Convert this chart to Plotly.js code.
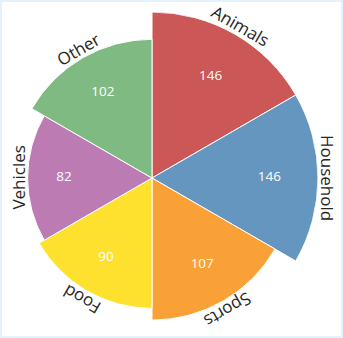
<!DOCTYPE html>
<html>
<head>
<meta charset="utf-8">
<script src="https://cdn.plot.ly/plotly-3.0.1.min.js"></script>
<style>
  html, body { margin: 0; padding: 0; background: #ffffff; }
  #wrap { position: relative; width: 343px; height: 338px; overflow: hidden; background: #ffffff; }
  #chart { position: absolute; left: -48px; top: -22px; width: 400px; height: 400px; }
  #frame { position: absolute; left: 0; top: 0; width: 343px; height: 338px; box-sizing: border-box;
           border: 2px solid #e4f2fb; pointer-events: none; }
</style>
</head>
<body>
<div id="wrap">
  <div id="chart"></div>
  <div id="frame"></div>
</div>
<script>
// ---- data ----
const categories = ["Animals", "Household", "Sports", "Food", "Vehicles", "Other"];
const values = [146, 146, 107, 90, 82, 102];
const colors = ["#cc5757", "#6596c0", "#f9a037", "#fee12e", "#bd7bb4", "#7fba82"];

// area-proportional sectors: radius = sqrt(value)
const rVals = values.map(v => Math.sqrt(v));
const rMax = Math.max(...rVals);
const rLabel = values.map(v => Math.sqrt(v / 2));

const sectorWidth = 360 / categories.length;
const thetaDeg = categories.map((c, i) => sectorWidth * (i + 0.5)); // clockwise from north

const barTrace = {
  type: "barpolar",
  r: rVals,
  theta: categories,
  marker: { color: colors, line: { color: "#ffffff", width: 1 } },
  hoverinfo: "skip",
  showlegend: false
};

const textTrace = {
  type: "scatterpolar",
  mode: "text",
  r: rLabel,
  theta: categories,
  text: values.map(String),
  textfont: { family: "Open Sans, sans-serif", size: 13.5, color: "#ffffff" },
  hoverinfo: "skip",
  showlegend: false
};

// tangential category labels just outside each sector
const plotSize = 332; // px of the polar domain
const gapPx = 10;
const annotations = categories.map((c, i) => {
  const d = 0.5 * rVals[i] / rMax + gapPx / plotSize;
  const t = thetaDeg[i] * Math.PI / 180;
  return {
    text: c,
    xref: "paper", yref: "paper",
    x: 0.5 + d * Math.sin(t),
    y: 0.5 + d * Math.cos(t),
    xanchor: "center", yanchor: "middle",
    showarrow: false,
    textangle: thetaDeg[i],
    font: { family: "Open Sans, sans-serif", size: 17, color: "#262626" }
  };
});

const layout = {
  width: 400,
  height: 400,
  margin: { l: 34, r: 34, t: 34, b: 34, pad: 0 },
  paper_bgcolor: "rgba(0,0,0,0)",
  plot_bgcolor: "rgba(0,0,0,0)",
  showlegend: false,
  polar: {
    domain: { x: [0, 1], y: [0, 1] },
    bgcolor: "rgba(0,0,0,0)",
    bargap: 0,
    radialaxis: { range: [0, rMax], visible: false, showgrid: false, showline: false, showticklabels: false, ticks: "" },
    angularaxis: {
      type: "category",
      categoryarray: categories,
      rotation: 90 - sectorWidth / 2,
      direction: "clockwise",
      showgrid: false, showline: false, showticklabels: false, ticks: ""
    }
  },
  annotations: annotations
};

Plotly.newPlot("chart", [barTrace, textTrace], layout, { staticPlot: true, displayModeBar: false });
</script>
</body>
</html>
